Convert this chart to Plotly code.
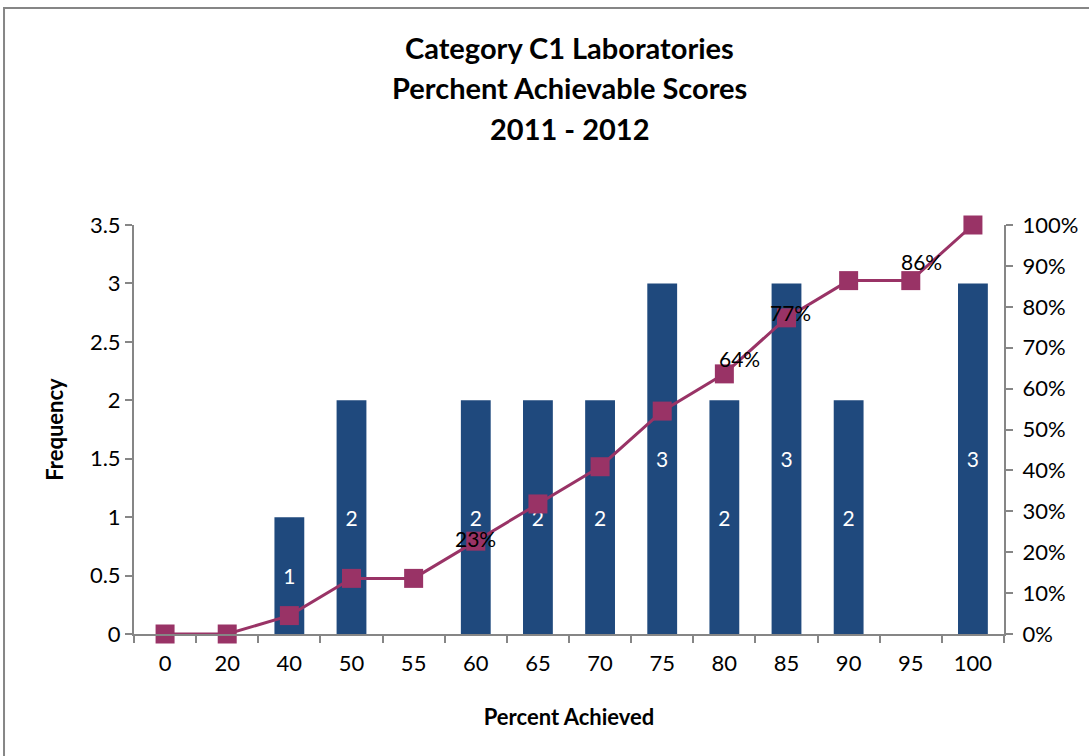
import plotly.graph_objects as go

# Данные гистограммы
categories = ["0", "20", "40", "50", "55", "60", "65", "70", "75", "80", "85", "90", "95", "100"]
frequency = [0, 0, 1, 2, 0, 2, 2, 2, 3, 2, 3, 2, 0, 3]
cumulative = [0.0, 0.0, 0.045, 0.136, 0.136, 0.227, 0.318, 0.409, 0.545, 0.636, 0.773, 0.864, 0.864, 1.0]

# Подписи накопленных процентов (категория, значение, текст, сдвиг x, сдвиг y)
pct_labels = [("60", 0.227, "23%", 0, 3), ("80", 0.636, "64%", 15, 15),
              ("85", 0.773, "77%", 4, 5), ("95", 0.864, "86%", 11, 19)]

title_lines = ["Category C1 Laboratories", "Perchent Achievable Scores", "2011 - 2012"]

bar_color = "#1F497D"
line_color = "#993366"
axis_color = "#868686"
font_name = "Lato"

bar_text = [str(v) if v > 0 else "" for v in frequency]

fig = go.Figure()

fig.add_trace(go.Bar(
    x=categories,
    y=frequency,
    marker=dict(color=bar_color, line=dict(width=0)),
    text=bar_text,
    textposition="inside",
    insidetextanchor="middle",
    textfont=dict(color="white", size=21, family=font_name),
    showlegend=False,
))

fig.add_trace(go.Scatter(
    x=categories,
    y=cumulative,
    yaxis="y2",
    mode="lines+markers",
    line=dict(color=line_color, width=3),
    marker=dict(symbol="square", size=19, color=line_color),
    cliponaxis=False,
    showlegend=False,
))

for cat, val, txt, dx, dy in pct_labels:
    fig.add_annotation(
        x=categories.index(cat), y=val, xref="x", yref="y2", text=txt, showarrow=False,
        xshift=dx, yshift=dy,
        font=dict(size=21, color="black", family=font_name),
    )

# Заголовок построчно
for i, line in enumerate(title_lines):
    fig.add_annotation(
        x=0.5, y=1.435 - i * 0.1, xref="paper", yref="paper",
        xanchor="center", yanchor="middle",
        text="<b>" + line + "</b>", showarrow=False,
        font=dict(size=29, color="black", family=font_name),
    )

# Рамка вокруг диаграммы
fig.add_shape(
    type="rect", xref="paper", yref="paper",
    x0=-0.1494, x1=1.2, y0=-0.35, y1=1.5306,
    line=dict(color=axis_color, width=2),
)

fig.update_layout(
    width=1089,
    height=756,
    paper_bgcolor="white",
    plot_bgcolor="white",
    margin=dict(l=134, r=85, t=225, b=122, autoexpand=False),
    font=dict(family=font_name, color="black", size=22),
    bargap=0.52,
    xaxis=dict(
        type="category",
        range=[-0.5, len(categories) - 0.5],
        showline=True, linecolor=axis_color, linewidth=2,
        ticks="outside", tickson="boundaries", ticklen=7, tickcolor=axis_color, tickwidth=2,
        showgrid=False, tickangle=0, ticklabelstandoff=9,
        tickfont=dict(size=22),
        title=dict(text="<b>Percent Achieved</b>", font=dict(size=22), standoff=34),
    ),
    yaxis=dict(
        range=[0, 3.5], dtick=0.5,
        showline=True, linecolor=axis_color, linewidth=2,
        ticks="outside", ticklen=7, tickcolor=axis_color, tickwidth=2,
        showgrid=False, zeroline=False,
        tickfont=dict(size=22),
        title=dict(text="<b>Frequency</b>", font=dict(size=22), standoff=20),
    ),
    yaxis2=dict(
        range=[0, 1], dtick=0.1, tickformat=".0%",
        overlaying="y", side="right",
        showline=True, linecolor=axis_color, linewidth=2,
        ticks="outside", ticklen=7, tickcolor=axis_color, tickwidth=2,
        showgrid=False, zeroline=False, ticklabelstandoff=5,
        tickfont=dict(size=22),
    ),
)

fig.write_html(
    "out.html",
    config={"displayModeBar": False},
    post_script="document.body.style.margin = '0';",
)
